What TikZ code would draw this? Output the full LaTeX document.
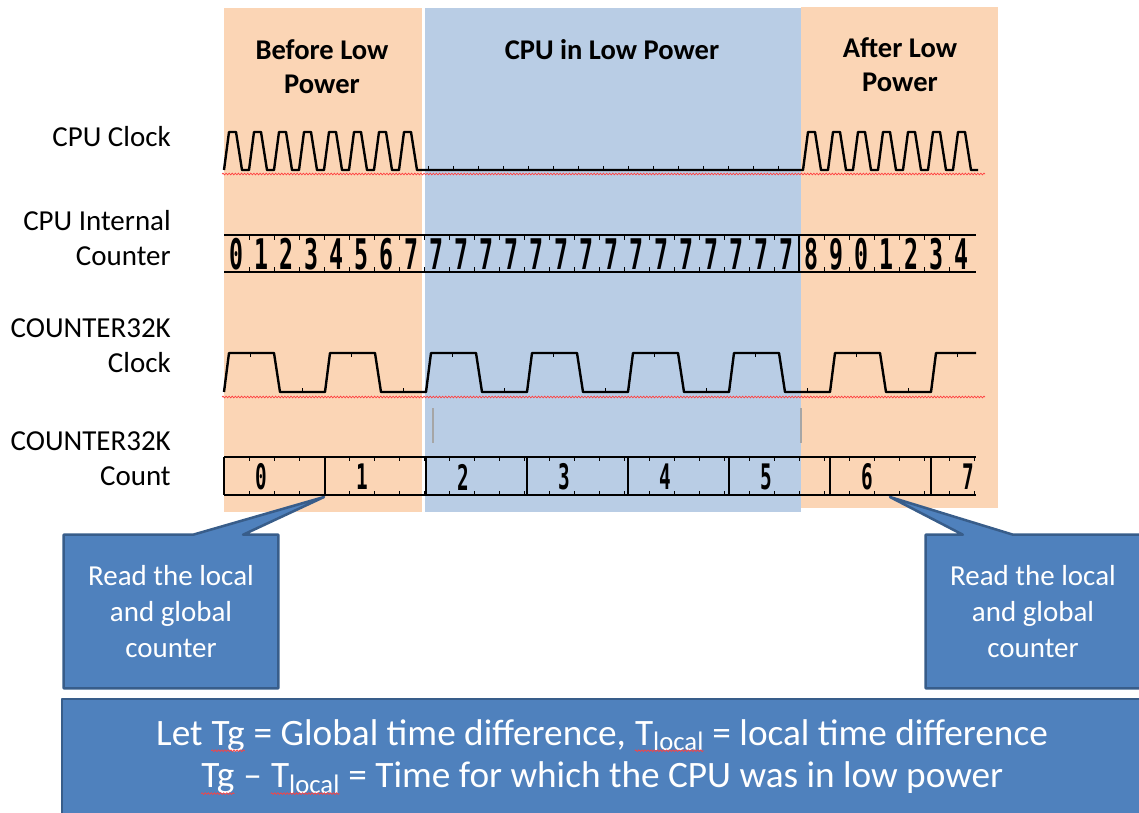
\documentclass[tikz,border=0pt]{standalone}
\usepackage{fontspec}
\setmainfont{Carlito}
\newfontfamily\digitfont[FakeStretch=0.55]{DejaVu Sans Mono}
\usepackage{xcolor}
\usepackage{tikz}
\usetikzlibrary{
    calc,
    positioning,
    decorations.pathmorphing
}

\definecolor{phaseorange}{HTML}{FBD5B5}
\definecolor{phaseblue}{HTML}{B9CDE5}
\definecolor{bubblefill}{HTML}{4F81BD}
\definecolor{bubbleedge}{HTML}{385D8A}

\pgfdeclarelayer{background}
\pgfsetlayers{background,main}

\tikzset{
    spell/.style={
        red!75,
        line width=0.5pt,
        decorate,
        decoration={snake, segment length=2.2pt, amplitude=0.6pt}
    }
}
\newcommand\spellwave[1]{\tikz[baseline=(sw.base)]{%
    \node[inner sep=0pt] (sw) {#1};
    \draw[spell] ([yshift=-4pt]sw.base west) -- ([yshift=-4pt]sw.base east);}}
\newcommand\lowsub[1]{\raisebox{-0.3ex}{\fontsize{19}{19}\selectfont #1}}

\begin{document}
\begin{tikzpicture}[
        x=0.025cm, y=-0.025cm,
        wave/.style={
            line width=1.7pt,
            line join=round
        },
        busline/.style={
            line width=1.7pt
        },
        gridtick/.style={
            line width=0.6pt
        },
        sigtext/.style={
            anchor=east,
            align=right,
            inner sep=0pt,
            font=\fontsize{20.6}{24.8}\selectfont
        },
        phase/.style={
            align=center,
            inner sep=0pt,
            font=\bfseries\fontsize{20.3}{24}\selectfont
        },
        cpudigit/.style={
            inner sep=0pt,
            font=\digitfont\bfseries\fontsize{30}{30}\selectfont
        },
        countdigit/.style={
            inner sep=0pt,
            font=\digitfont\bfseries\fontsize{25}{25}\selectfont
        },
        bubble/.style={
            fill=bubblefill,
            draw=bubbleedge,
            line width=1.8pt,
            line join=round
        },
        readbox/.style={
            align=center,
            text=white,
            inner sep=0pt,
            minimum width=5.35cm,
            minimum height=3.825cm,
            font=\fontsize{20.6}{25.5}\selectfont
        }
    ]

    \useasboundingbox (0,0) rectangle (1139,812);

    \begin{pgfonlayer}{background}
        \fill[phaseorange] (224,8) rectangle (422,512);
        \fill[phaseblue] (425,8) rectangle (801,512);
        \fill[phaseorange] (801,7) rectangle (998,508);
    \end{pgfonlayer}

    \node[phase] (before) at (322,67) {Before Low\\Power};
    \node[phase] (lowpower) at (612,50) {CPU in Low Power};
    \node[phase] (after) at (900,65) {After Low\\Power};

    \node[sigtext] (cpuclock) at (171,137) {CPU Clock};
    \node[sigtext] (cpucounter) at (171,238) {CPU Internal\\Counter};
    \node[sigtext] (clock32k) at (171,346) {COUNTER32K\\Clock};
    \node[sigtext] (count32k) at (171,459) {COUNTER32K\\Count};

    % CPU clock
    \draw[wave] (224,170)
        \foreach \s in {224,249,...,399} {
            -- (\s,170) -- (\s+5,132) -- (\s+12,132) -- (\s+18,170)
        }
        -- (803,170)
        \foreach \s in {803,828,...,953} {
            -- (\s,170) -- (\s+5,132) -- (\s+12,132) -- (\s+18,170)
        }
        -- (978,170);
    \foreach \x in {428,453,...,778}
        \draw[gridtick] (\x,166) -- (\x,170);
    \draw[spell] (222,174) -- (985,174);

    % CPU internal counter
    \draw[busline] (224,235) -- (976,235);
    \draw[busline] (224,272) -- (976,272);
    \foreach \k in {1,...,29} {
        \draw[gridtick] (224+25*\k,235) -- ++(0,5);
        \draw[gridtick] (224+25*\k,272) -- ++(0,-5);
    }
    \draw[line width=1.4pt] (799,235) -- (799,272);
    \foreach \d [count=\k from 0] in {0,1,2,3,4,5,6,7,
            7,7,7,7,7,7,7,7,7,7,7,7,7,7,7,
            8,9,0,1,2,3,4}
        \node[cpudigit] (cpud\k) at (236.5+25*\k,254) {\d};

    % COUNTER32K clock
    \draw[wave] (224,392)
        \foreach \s in {224,325,...,830} {
            -- (\s,392) -- (\s+5,353) -- (\s+50,353) -- (\s+56,392) -- (\s+101,392)
        }
        -- (931,392) -- (936,353) -- (976,353);
    \foreach \s in {224,325,...,931}
        \draw[gridtick] (\s+26,353) -- ++(0,4);
    \foreach \s in {224,325,...,830}
        \draw[gridtick] (\s+78,392) -- ++(0,-4);
    \draw[spell] (222,397) -- (985,397);

    \draw[gray!70, line width=0.8pt] (433,408) -- (433,443);
    \draw[gray!70, line width=0.8pt] (801,408) -- (801,443);

    % COUNTER32K count
    \draw[busline] (224,457) -- (976,457);
    \draw[busline] (224,495) -- (976,495);
    \foreach \s in {224,325,...,931}
        \draw[busline] (\s,457) -- (\s,495);
    \foreach \x in {249,274,...,974} {
        \draw[gridtick] (\x,457) -- ++(0,4);
        \draw[gridtick] (\x,495) -- ++(0,-4);
    }
    \foreach \d [count=\k from 0] in {0,...,7}
        \node[countdigit] (cnt\d) at (261+101*\k,477) {\d};

    % read-out bubbles
    \node[readbox] (readbefore) at (171,611.5) {Read the local\\and global\\counter};
    \node[readbox] (readafter) at (1033,611.5) {Read the local\\and global\\counter};
    \coordinate (tipbefore) at (324,497);
    \coordinate (tipafter) at (890,497);

    \begin{pgfonlayer}{background}
        \draw[bubble] (readbefore.north west)
            -- ($(readbefore.north west)!0.603!(readbefore.north east)$)
            -- (tipbefore)
            -- ($(readbefore.north west)!0.836!(readbefore.north east)$)
            -- (readbefore.north east) -- (readbefore.south east)
            -- (readbefore.south west) -- cycle;
        \draw[bubble] (readafter.north west)
            -- ($(readafter.north west)!0.173!(readafter.north east)$)
            -- (tipafter)
            -- ($(readafter.north west)!0.407!(readafter.north east)$)
            -- (readafter.north east) -- (readafter.south east)
            -- (readafter.south west) -- cycle;
    \end{pgfonlayer}

    \node[bubble, minimum width=27.2cm, minimum height=3.15cm] (summary) at (606,762) {};
    \node[align=center, text=white, inner sep=0pt, font=\fontsize{26.5}{30.5}\selectfont]
        (formula) at (602,757)
        {Let \spellwave{Tg} = Global time difference, \spellwave{T\lowsub{local}} = local time difference\\
         \spellwave{Tg} – \spellwave{T\lowsub{local}} = Time for which the CPU was in low power};

\end{tikzpicture}
\end{document}
